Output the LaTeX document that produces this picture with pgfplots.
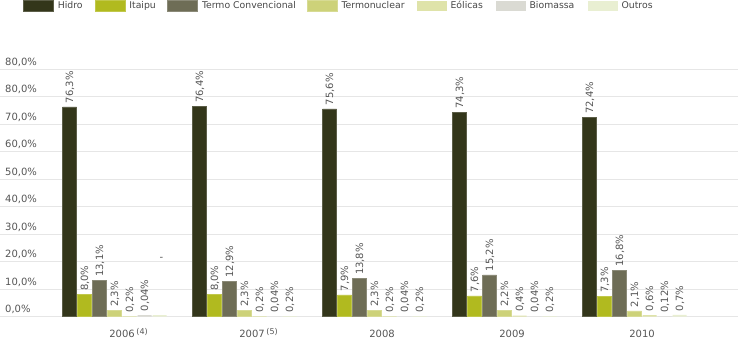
\documentclass[border=0pt]{standalone}
\usepackage{pgfplots}
\pgfplotsset{compat=1.18}
\usepackage{fontspec}
\setmainfont{DejaVu Sans}
\definecolor{chidro}{HTML}{33361A}
\definecolor{citaipu}{HTML}{B1BA1F}
\definecolor{ctermo}{HTML}{6E6D56}
\definecolor{cnuc}{HTML}{CDD279}
\definecolor{ceol}{HTML}{DFE3A9}
\definecolor{cbio}{HTML}{DADAD3}
\definecolor{coutros}{HTML}{E9EFD2}
\definecolor{gridc}{HTML}{E6E6E6}
\definecolor{txt}{HTML}{555555}
\newcommand{\legtxt}[2]{\hspace*{4bp}\makebox[#1bp][l]{#2}}
\begin{document}
\begin{tikzpicture}
\path[use as bounding box] (0,0) rectangle (738bp,341bp);
\begin{axis}[
  at={(0bp,24.3bp)}, anchor=south west,
  scale only axis, width=738bp, height=247.5bp,
  xmin=-0.8808, xmax=4.796, ymin=0, ymax=90,
  enlargelimits=false, clip=false,
  ybar=1bp, bar width=14bp,
  axis line style={draw=none},
  major tick length=0,
  ymajorgrids, major grid style={draw=gridc, line width=1.3bp},
  ytick={0,10,20,30,40,50,60,70,80,90},
  yticklabels={{0,0\%},{10,0\%},{20,0\%},{30,0\%},{40,0\%},{50,0\%},{60,0\%},{70,0\%},{80,0\%},{80,0\%}},
  yticklabel style={anchor=base west, inner sep=0, xshift=5bp, yshift=3.9bp, font=\fontsize{10bp}{12bp}\selectfont, text=txt},
  xtick={0.0577,1.0577,2.0577,3.0577,4.0577},
  xticklabels={{2006\rlap{\,\raisebox{2.2bp}{\fontsize{8bp}{9bp}\selectfont(4)}}},{2007\rlap{\,\raisebox{2.2bp}{\fontsize{8bp}{9bp}\selectfont(5)}}},2008,2009,2010},
  xticklabel style={anchor=base, inner sep=0, yshift=-20.3bp, font=\fontsize{10bp}{12bp}\selectfont, text=txt},
  point meta=explicit symbolic,
  nodes near coords={\pgfplotspointmeta},
  every node near coord/.append style={rotate=90, anchor=west, inner sep=0pt, font=\fontsize{10bp}{12bp}\selectfont, text=txt, text depth=0pt},
  legend columns=7,
  legend image code/.code={\fill[#1] (0bp,-5.25bp) rectangle (30bp,5.25bp);},
  legend style={at={(0.03117,1.2796)}, anchor=north west, draw=none, fill=none, inner sep=0pt,
    font=\fontsize{9.3bp}{10bp}\selectfont, text=black!72,
    column sep=0pt,
    nodes={inner sep=0pt, text height=7bp, text depth=2bp}},
]
\addplot[fill=chidro, draw=chidro!80!white, line width=0.6bp] coordinates {(0,76.3) [\hspace*{3.5bp}76,3\%] (1,76.4) [\hspace*{3.5bp}76,4\%] (2,75.6) [\hspace*{3.5bp}75,6\%] (3,74.3) [\hspace*{3.5bp}74,3\%] (4,72.4) [\hspace*{3.5bp}72,4\%]};
\addplot[fill=citaipu, draw=citaipu!80!white, line width=0.6bp] coordinates {(0,8.0) [\hspace*{3.5bp}8,0\%] (1,8.0) [\hspace*{3.5bp}8,0\%] (2,7.9) [\hspace*{3.5bp}7,9\%] (3,7.6) [\hspace*{3.5bp}7,6\%] (4,7.3) [\hspace*{3.5bp}7,3\%]};
\addplot[fill=ctermo, draw=ctermo!80!white, line width=0.6bp] coordinates {(0,13.1) [\hspace*{3.5bp}13,1\%] (1,12.9) [\hspace*{3.5bp}12,9\%] (2,13.8) [\hspace*{3.5bp}13,8\%] (3,15.2) [\hspace*{3.5bp}15,2\%] (4,16.8) [\hspace*{3.5bp}16,8\%]};
\addplot[fill=cnuc, draw=cnuc!80!white, line width=0.6bp] coordinates {(0,2.3) [\hspace*{3.5bp}2,3\%] (1,2.3) [\hspace*{3.5bp}2,3\%] (2,2.3) [\hspace*{3.5bp}2,3\%] (3,2.2) [\hspace*{3.5bp}2,2\%] (4,2.1) [\hspace*{3.5bp}2,1\%]};
\addplot[fill=ceol, draw=none] coordinates {(0,0.2) [\hspace*{3.5bp}0,2\%] (1,0.2) [\hspace*{3.5bp}0,2\%] (2,0.2) [\hspace*{3.5bp}0,2\%] (3,0.4) [\hspace*{3.5bp}0,4\%] (4,0.6) [\hspace*{3.5bp}0,6\%]};
\addplot[fill=cbio, draw=none] coordinates {(0,0.6) [\hspace*{3.5bp}0,04\%] (1,0.04) [\hspace*{3.5bp}0,04\%] (2,0.04) [\hspace*{3.5bp}0,04\%] (3,0.04) [\hspace*{3.5bp}0,04\%] (4,0.12) [\hspace*{3.5bp}0,12\%]};
\addplot[fill=coutros, draw=none] coordinates {(0,0.6) [\hspace*{54bp}\rotatebox{-90}{-}] (1,0.2) [\hspace*{3.5bp}0,2\%] (2,0.2) [\hspace*{3.5bp}0,2\%] (3,0.2) [\hspace*{3.5bp}0,2\%] (4,0.7) [\hspace*{3.5bp}0,7\%]};
\legend{\legtxt{37}{Hidro},\legtxt{38}{Itaipu},\legtxt{105}{Termo Convencional},\legtxt{75}{Termonuclear},\legtxt{45}{Eólicas},\legtxt{58}{Biomassa},\legtxt{40}{Outros}}
\end{axis}
\end{tikzpicture}
\end{document}
